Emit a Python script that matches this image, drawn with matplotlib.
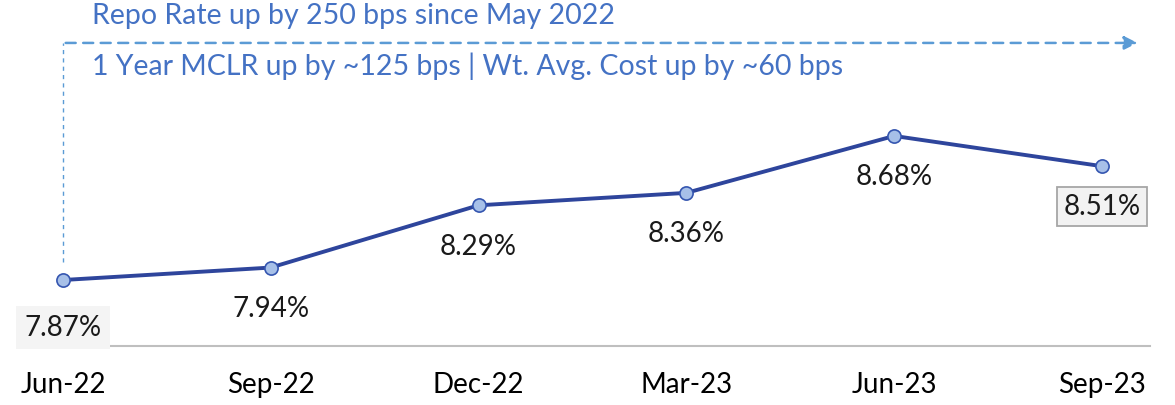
import matplotlib.pyplot as plt

quarters = ['Jun-22', 'Sep-22', 'Dec-22', 'Mar-23', 'Jun-23', 'Sep-23']
mclr = [7.87, 7.94, 8.29, 8.36, 8.68, 8.51]
labels = ['7.87%', '7.94%', '8.29%', '8.36%', '8.68%', '8.51%']

plt.rcParams['font.family'] = ['Lato', 'DejaVu Sans']

fig = plt.figure(figsize=(11.75, 4.06), dpi=100)
ax = fig.add_axes([28 / 1175, 1 - 347 / 406, (1150 - 28) / 1175, 347 / 406])

x = list(range(len(quarters)))
ax.plot(x, mclr, color='#2E459C', lw=2.8, marker='o', markersize=9.5,
        markerfacecolor='#A7C0E8', markeredgecolor='#3556B0', markeredgewidth=1.2, zorder=3)

for i, (v, lab) in enumerate(zip(mclr, labels)):
    off = -34 if i == 0 else -29
    box = dict(boxstyle='square,pad=0.3', fc='#F4F4F4', ec='none')
    if i == len(mclr) - 1:
        box = dict(boxstyle='square,pad=0.22', fc='#F2F2F2', ec='#A6A6A6', lw=1.3)
    elif i != 0:
        box = None
    ax.annotate(lab, (i, v), xytext=(0, off), textcoords='offset points',
                ha='center', va='center', fontsize=20, color='#1a1a1a', bbox=box)

ax.set_xlim(-0.168, 5.231)
ax.set_ylim(7.499, 9.45)
ax.set_xticks(x)
ax.set_xticklabels(quarters, fontsize=20)
ax.tick_params(axis='x', length=0, pad=18)
ax.set_yticks([])
for s in ['left', 'right', 'top']:
    ax.spines[s].set_visible(False)
ax.spines['bottom'].set_color('#BFBFBF')
ax.spines['bottom'].set_linewidth(1.5)

# annotation arrow
arrow_y = 9.203
ax.plot([0, 0], [mclr[0] + 0.1, arrow_y], color='#5B9BD5', lw=1, ls=(0, (3, 3)))
ax.annotate('', xy=(5.185, arrow_y), xytext=(0, arrow_y),
            arrowprops=dict(arrowstyle='-|>', color='#5B9BD5', lw=1.8,
                            linestyle=(0, (4, 3)), mutation_scale=20))
ax.text(0.14, 9.36, 'Repo Rate up by 250 bps since May 2022', fontsize=20.5,
        color='#4472C4', va='center', ha='left')
ax.text(0.14, 9.08, '1 Year MCLR up by ~125 bps | Wt. Avg. Cost up by ~60 bps', fontsize=20.5,
        color='#4472C4', va='center', ha='left')

plt.savefig('out.png', dpi=100)
